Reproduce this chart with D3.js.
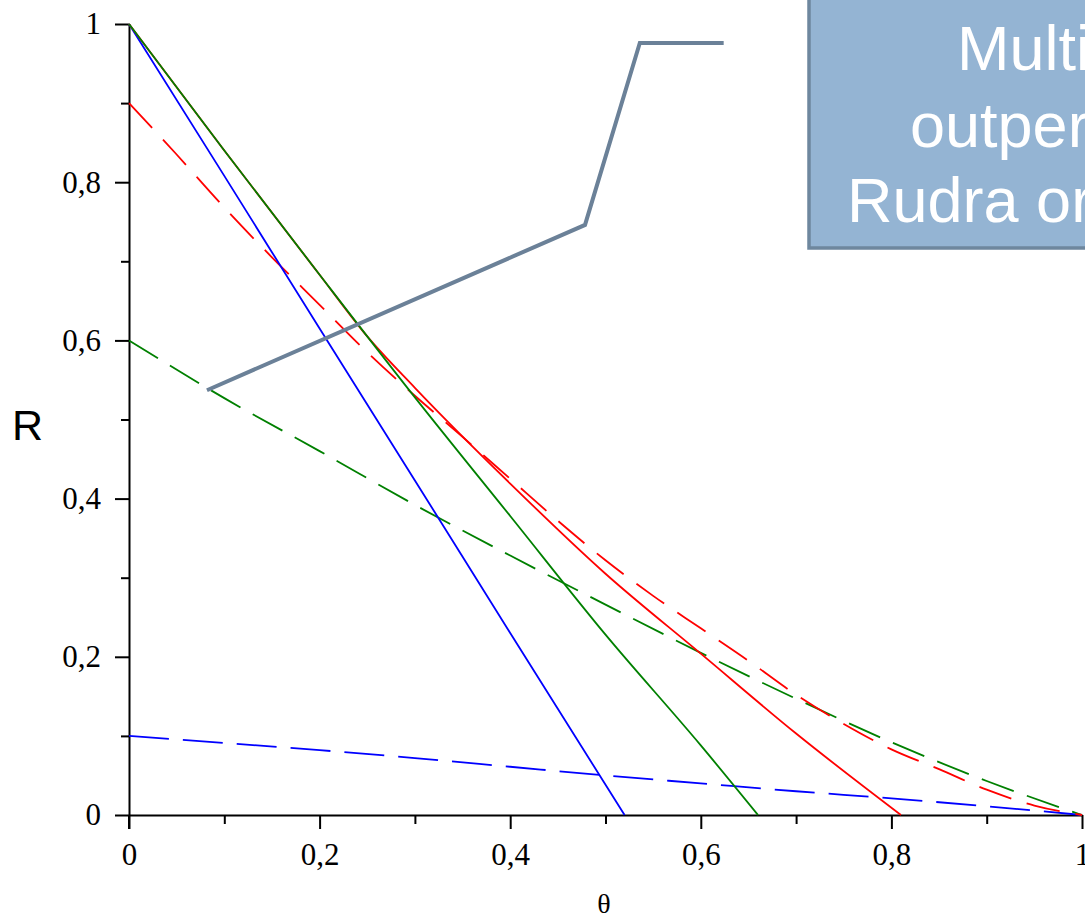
<!DOCTYPE html>
<html>
<head>
<meta charset="utf-8">
<script src="https://cdn.jsdelivr.net/npm/d3@7"></script>
<style>
  html, body { margin: 0; padding: 0; background: #fff; overflow: hidden; }
  svg { display: block; }
</style>
</head>
<body>
<svg id="chart" width="1085" height="917"></svg>
<script>
// ---- data ----
const xTicks = [0, 0.2, 0.4, 0.6, 0.8, 1];
const xMinorTicks = [0.1, 0.3, 0.5, 0.7, 0.9];
const yTicks = [0, 0.2, 0.4, 0.6, 0.8, 1];
const yMinorTicks = [0.1, 0.3, 0.5, 0.7, 0.9];
const tickLabels = ["0", "0,2", "0,4", "0,6", "0,8", "1"];

const blueSolidTheta = [0, 0.1, 0.2, 0.3, 0.4, 0.52];
const blueSolidR     = [1, 0.808, 0.615, 0.423, 0.23, 0];

const greenSolidTheta = [0, 0.1, 0.2, 0.3, 0.4, 0.5, 0.6, 0.66];
const greenSolidR     = [1, 0.84, 0.683, 0.528, 0.378, 0.228, 0.088, 0];

const redSolidTheta = [0, 0.1, 0.2, 0.25, 0.3, 0.4, 0.5, 0.6, 0.7, 0.81];
const redSolidR     = [1, 0.84, 0.683, 0.605, 0.54, 0.419, 0.305, 0.204, 0.103, 0];

const redDashTheta = [0, 0.05, 0.1, 0.15, 0.2, 0.25, 0.3, 0.35, 0.4, 0.45, 0.5, 0.55, 0.6, 0.65, 0.7, 0.75, 0.8, 0.85, 0.9, 0.95, 1];
const redDashR     = [0.9, 0.835, 0.768, 0.705, 0.645, 0.585, 0.53, 0.478, 0.425, 0.372, 0.322, 0.277, 0.236, 0.195, 0.152, 0.115, 0.083, 0.058, 0.032, 0.012, 0];

const greenDashTheta = [0, 0.1, 0.2, 0.3, 0.4, 0.5, 0.6, 0.7, 0.8, 0.9, 1];
const greenDashR     = [0.6, 0.527, 0.46, 0.392, 0.328, 0.266, 0.205, 0.147, 0.092, 0.043, 0];

const blueDashTheta = [0, 0.1, 0.2, 0.3, 0.4, 0.5, 0.6, 0.7, 0.8, 0.9, 1];
const blueDashR     = [0.1, 0.091, 0.082, 0.072, 0.061, 0.05, 0.04, 0.03, 0.021, 0.011, 0];

// callout leader line (data space)
const calloutTheta = [0.0818, 0.4785, 0.536, 0.624];
const calloutR     = [0.537, 0.746, 0.976, 0.976];
const calloutLines = ["Multi", "outper", "Rudra or"];

// ---- drawing ----
const svg = d3.select("#chart");
const x = d3.scaleLinear().domain([0, 1]).range([129, 1082]);
const y = d3.scaleLinear().domain([0, 1]).range([815, 24]);
const fmt = d => tickLabels[xTicks.indexOf(d)];

const serif = "'Liberation Serif', 'DejaVu Serif', serif";

// minor ticks
svg.append("g").attr("transform", "translate(129,0)")
  .call(d3.axisLeft(y).tickValues(yMinorTicks).tickSize(8).tickFormat(""))
  .call(g => g.select(".domain").remove())
  .selectAll("line").attr("stroke", "#000").attr("stroke-width", 2);
svg.append("g").attr("transform", "translate(0,815)")
  .call(d3.axisBottom(x).tickValues(xMinorTicks).tickSize(9).tickFormat(""))
  .call(g => g.select(".domain").remove())
  .selectAll("line").attr("stroke", "#000").attr("stroke-width", 2);

// major axes
const yAxis = svg.append("g").attr("transform", "translate(129,0)")
  .call(d3.axisLeft(y).tickValues(yTicks).tickSize(14).tickSizeOuter(0).tickPadding(14).tickFormat(fmt));
const xAxis = svg.append("g").attr("transform", "translate(0,815)")
  .call(d3.axisBottom(x).tickValues(xTicks).tickSize(14).tickSizeOuter(0).tickPadding(14).tickFormat(fmt));
[yAxis, xAxis].forEach(g => {
  g.select(".domain").attr("stroke", "#000").attr("stroke-width", 2);
  g.selectAll("line").attr("stroke", "#000").attr("stroke-width", 2);
  g.selectAll("text").attr("font-family", serif).attr("font-size", 31).attr("fill", "#000");
});
// extend the y axis to the bottom of the 0 tick
svg.append("line").attr("x1", x(0)).attr("x2", x(0)).attr("y1", y(0)).attr("y2", y(0) + 14)
  .attr("stroke", "#000").attr("stroke-width", 2);

// axis titles
svg.append("text").attr("x", 12).attr("y", 440)
  .attr("font-family", "'Liberation Sans', Arial, sans-serif").attr("font-size", 43)
  .attr("fill", "#000").text("R");
svg.append("text").attr("x", 604).attr("y", 913).attr("text-anchor", "middle")
  .attr("font-family", serif).attr("font-size", 28).attr("fill", "#000").text("θ");

// curves
const line = d3.line().x(d => x(d[0])).y(d => y(d[1])).curve(d3.curveMonotoneX);
const series = [
  { t: blueDashTheta,  r: blueDashR,  color: "#0000ff", dash: "40,14" },
  { t: greenDashTheta, r: greenDashR, color: "#008000", dash: "34,14" },
  { t: redDashTheta,   r: redDashR,   color: "#ff0000", dash: "34,16" },
  { t: blueSolidTheta, r: blueSolidR, color: "#0000ff", dash: null },
  { t: redSolidTheta,  r: redSolidR,  color: "#ff0000", dash: null },
  { t: greenSolidTheta,r: greenSolidR,color: "#008000", dash: null }
];
series.forEach(s => {
  svg.append("path")
    .datum(s.t.map((t, i) => [t, s.r[i]]))
    .attr("d", line)
    .attr("fill", "none")
    .attr("stroke", s.color)
    .attr("stroke-width", 1.8)
    .attr("stroke-dasharray", s.dash);
});

// callout leader
svg.append("path")
  .datum(calloutTheta.map((t, i) => [t, calloutR[i]]))
  .attr("d", d3.line().x(d => x(d[0])).y(d => y(d[1])))
  .attr("fill", "none").attr("stroke", "#6b8198").attr("stroke-width", 4);

// callout box
svg.append("rect").attr("x", 809).attr("y", -10).attr("width", 300).attr("height", 258)
  .attr("fill", "#94b4d3").attr("stroke", "#6e879e").attr("stroke-width", 3.5);
const boxTextX = [957, 910, 847];
const boxTextY = [70, 147, 222];
calloutLines.forEach((t, i) => {
  svg.append("text").attr("x", boxTextX[i]).attr("y", boxTextY[i])
    .attr("font-family", "'Liberation Sans', Arial, sans-serif").attr("font-size", 63)
    .attr("fill", "#ffffff").text(t);
});
</script>
</body>
</html>
